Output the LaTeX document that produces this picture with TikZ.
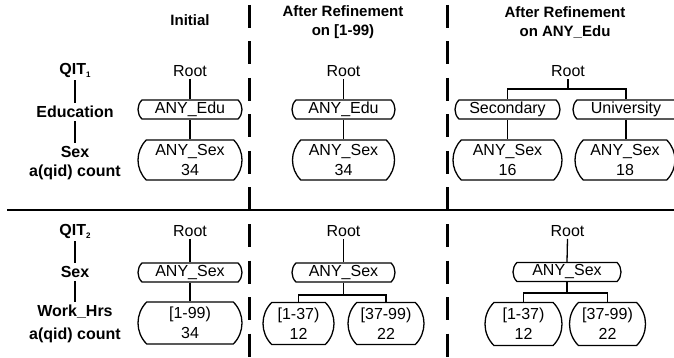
\documentclass[tikz,border=0pt]{standalone}
\usepackage{fontspec}
\setmainfont{Liberation Sans}
\usetikzlibrary{shapes.misc}
\begin{document}
\begin{tikzpicture}[x=1pt,y=-1pt,
  txt/.style={font=\fontsize{16}{20}\selectfont, inner sep=2pt},
  lbl/.style={font=\fontsize{16}{20}\selectfont\bfseries, inner sep=3pt},
  hdr/.style={font=\fontsize{15}{19}\selectfont\bfseries, align=center},
  bx/.style={draw, line width=1.3pt, rounded rectangle, rounded rectangle arc length=90,
    inner sep=0pt, font=\fontsize{16}{20}\selectfont, align=center},
  ln/.style={line width=1.3pt},
  dv/.style={line width=3pt, dash pattern=on 23pt off 13.5pt}]
\clip (0,0) rectangle (674,358);
% separators
\draw[line width=1.4pt] (7,210) -- (674,210);
\draw[dv] (249,5) -- (249,358);
\draw[dv] (447.5,5) -- (447.5,358);
% headers
\node[hdr] (h1) at (190,20) {Initial};
\node[hdr] (h2) at (343,22) {After Refinement\\on [1-99)};
\node[hdr] (h3) at (565,22) {After Refinement\\on ANY\_Edu};
% left labels top
\node[lbl] (q1) at (75,70) {QIT\raisebox{-3pt}{\fontsize{8}{8}\selectfont 1}};
\node[lbl] (ed1) at (75,112) {Education};
\node[lbl] (sx1) at (75,152) {Sex};
\node[lbl] (ac1) at (75,172) {a(qid) count};
\draw[ln] (q1.south) -- (ed1.north);
\draw[ln] (ed1.south) -- (sx1.north);
% left labels bottom
\node[lbl] (q2) at (75,231) {QIT\raisebox{-3pt}{\fontsize{8}{8}\selectfont 2}};
\node[lbl] (sx2) at (75,272) {Sex};
\node[lbl] (wh) at (75,312) {Work\_Hrs};
\node[lbl] (ac2) at (75,335) {a(qid) count};
\draw[ln] (q2.south) -- (sx2.north);
\draw[ln] (sx2.south) -- (wh.north);
% top column 1
\node[txt] (r1) at (190,71) {Root};
\node[bx, minimum width=104pt, minimum height=19pt] (e1) at (190,109.5) {ANY\_Edu};
\node[bx, minimum width=104pt, minimum height=40pt] (s1) at (190,160) {ANY\_Sex\\34};
\draw[ln] (r1.south) -- (e1.north);
\draw[ln] (e1.south) -- (s1.north);
% top column 2
\node[txt] (r2) at (343.5,71) {Root};
\node[bx, minimum width=103pt, minimum height=19pt] (e2) at (343.5,109.5) {ANY\_Edu};
\node[bx, minimum width=102pt, minimum height=40pt] (s2) at (343.5,160) {ANY\_Sex\\34};
\draw[ln] (r2.south) -- (e2.north);
\draw[ln] (e2.south) -- (s2.north);
% top column 3
\node[txt] (r3) at (568,71) {Root};
\coordinate (c3) at (568,89);
\node[bx, minimum width=105pt, minimum height=19pt] (e3a) at (507.5,109.5) {Secondary};
\node[bx, minimum width=106pt, minimum height=19pt] (e3b) at (626,109.5) {University};
\node[bx, minimum width=109pt, minimum height=40pt] (s3a) at (507.5,160) {ANY\_Sex\\16};
\node[bx, minimum width=100pt, minimum height=40pt] (s3b) at (625,160) {ANY\_Sex\\18};
\draw[ln] (r3.south) -- (c3);
\draw[ln] (e3a.north) |- (c3) -| (e3b.north);
\draw[ln] (e3a.south) -- (s3a.north);
\draw[ln] (e3b.south) -- (e3b.south |- s3b.north);
% bottom column 1
\node[txt] (r4) at (190,231) {Root};
\node[bx, minimum width=104pt, minimum height=19pt] (b1) at (190,272.5) {ANY\_Sex};
\node[bx, minimum width=104pt, minimum height=42pt] (w1) at (190,323) {[1-99)\\34};
\draw[ln] (r4.south) -- (b1.north);
\draw[ln] (b1.south) -- (w1.north);
% bottom column 2
\node[txt] (r5) at (343.5,231) {Root};
\node[bx, minimum width=103pt, minimum height=19pt] (b2) at (343.5,272.5) {ANY\_Sex};
\coordinate (c5) at (343.5,295);
\node[bx, minimum width=71pt, minimum height=42pt] (w2a) at (298.5,323.5) {[1-37)\\12};
\node[bx, minimum width=76pt, minimum height=42pt] (w2b) at (386,323.5) {[37-99)\\22};
\draw[ln] (r5.south) -- (b2.north);
\draw[ln] (b2.south) -- (c5);
\draw[ln] (w2a.north) |- (c5) -| (w2b.north);
% bottom column 3
\node[txt] (r6) at (567.5,231) {Root};
\node[bx, minimum width=108pt, minimum height=19pt] (b3) at (567,272) {ANY\_Sex};
\coordinate (c6) at (567,293);
\node[bx, minimum width=77pt, minimum height=43pt] (w3a) at (523.5,324) {[1-37)\\12};
\node[bx, minimum width=76pt, minimum height=43pt] (w3b) at (607.5,324) {[37-99)\\22};
\draw[ln] (r6.south) -- (b3.north);
\draw[ln] (b3.south) -- (c6);
\draw[ln] (w3a.north) |- (c6) -| (w3b.north);
\end{tikzpicture}
\end{document}
